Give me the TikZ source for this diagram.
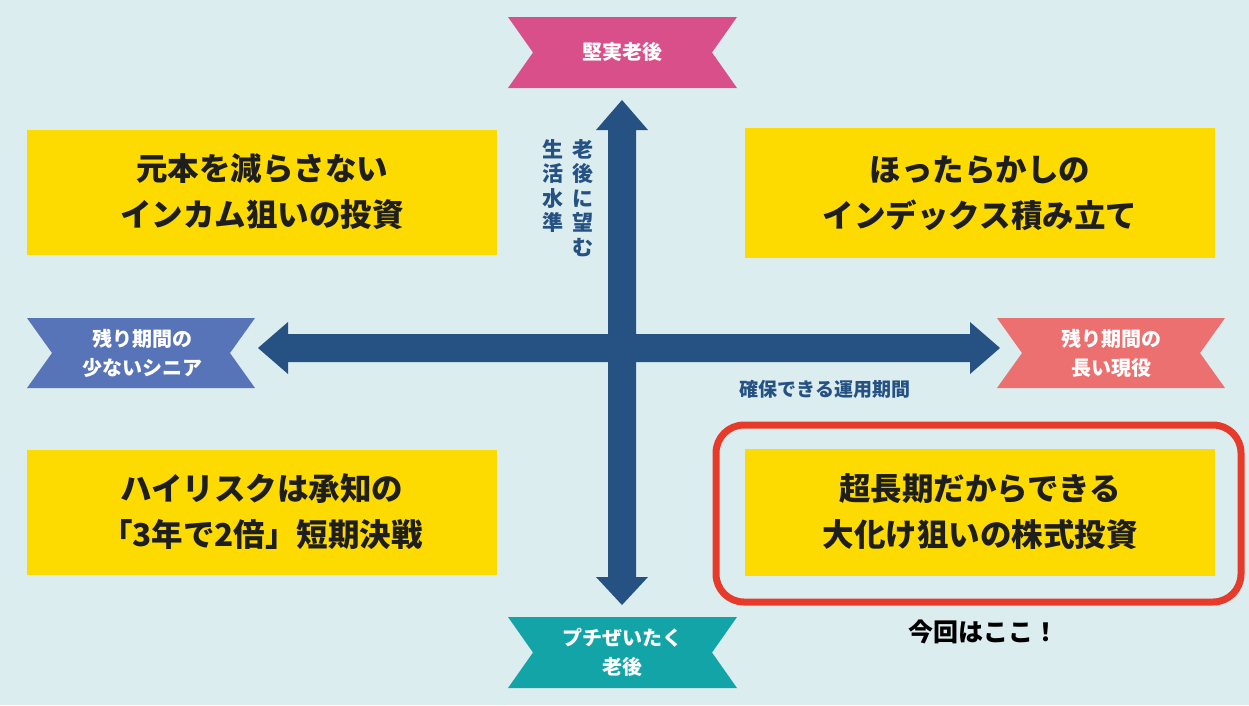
\documentclass[tikz,border=0pt]{standalone}
\usepackage{fontspec}
\newfontfamily\jp{Noto Sans CJK JP}
\definecolor{bg}{RGB}{220,237,240}
\definecolor{yel}{RGB}{253,219,0}
\definecolor{arr}{RGB}{37,82,131}
\definecolor{pinkb}{RGB}{217,79,138}
\definecolor{tealb}{RGB}{19,164,168}
\definecolor{blueb}{RGB}{88,116,184}
\definecolor{salb}{RGB}{236,112,112}
\definecolor{redr}{RGB}{232,58,42}
\definecolor{txt}{RGB}{30,30,30}
\begin{document}
\begin{tikzpicture}[x=1pt,y=-1pt,
  ybox/.style={fill=yel,draw=none,minimum width=470pt,minimum height=125pt,align=center,font=\jp\bfseries\fontsize{31.5}{46}\selectfont,text=txt},
  bantext/.style={text=white,align=center,font=\jp\bfseries\fontsize{20}{29}\selectfont}]
\fill[bg] (0,0) rectangle (1249,705);
\useasboundingbox (0,0) rectangle (1249,705);
% ribbons
\newcommand\ribbon[5]{% x1 y1 x2 y2 color
  \fill[#5] (#1,#2) -- (#3,#2) -- ({#3-25},{(#2+#4)/2}) -- (#3,#4) -- (#1,#4) -- ({#1+25},{(#2+#4)/2}) -- cycle;}
\ribbon{508}{17}{737}{88}{pinkb}
\ribbon{508}{617}{737}{688}{tealb}
\ribbon{27}{318}{255}{388}{blueb}
\ribbon{997}{318}{1225}{388}{salb}
\node[bantext] (top) at (622,52) {堅実老後};
\node[bantext] (bot) at (622,652) {プチぜいたく\\老後};
\node[bantext] (left) at (142,353) {残り期間の\\少ないシニア};
\node[bantext] (right) at (1111,353) {残り期間の\\長い現役};
% boxes
\node[ybox] (tl) at (262,192) {元本を減らさない\\インカム狙いの投資};
\node[ybox,minimum height=130pt] (tr) at (980,193) {ほったらかしの\\インデックス積み立て};
\node[ybox] (bl) at (262,512) {ハイリスクは承知の\\「3年で2倍」短期決戦};
\node[ybox,minimum height=127pt] (br) at (980,512) {超長期だからできる\\大化け狙いの株式投資};
\draw[redr,line width=7pt,rounded corners=28pt] (716,425) rectangle (1241,602);
% arrows
\fill[arr] (622,100) -- (648,130) -- (636,130) -- (636,577) -- (648,577) -- (622,605) -- (596,577) -- (608,577) -- (608,130) -- (596,130) -- cycle;
\fill[arr] (258,348) -- (288,322) -- (288,334) -- (970,334) -- (970,322) -- (1000,348) -- (970,374) -- (970,362) -- (288,362) -- (288,374) -- cycle;
% labels
\node[text=arr,font=\jp\bfseries\fontsize{21}{24.5}\selectfont,align=center,anchor=north] (v1) at (583,136) {老\\後\\に\\望\\む};
\node[text=arr,font=\jp\bfseries\fontsize{21}{24.5}\selectfont,align=center,anchor=north] (v2) at (553,136) {生\\活\\水\\準};
\node[text=arr,font=\jp\bfseries\fontsize{19}{23}\selectfont] (h) at (825,389) {確保できる運用期間};
\node[text=black,font=\jp\bfseries\fontsize{25}{29}\selectfont] (here) at (983,632) {今回はここ！};
\end{tikzpicture}
\end{document}
